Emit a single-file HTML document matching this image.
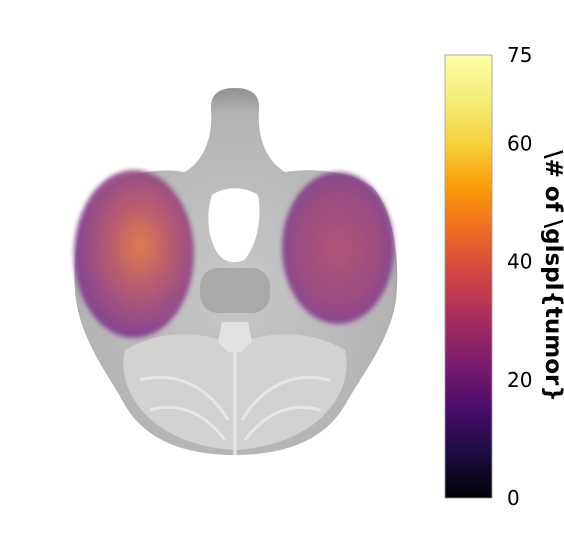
<!DOCTYPE html>
<html><head><meta charset="utf-8"><style>
body{margin:0;background:#fff;width:564px;height:554px;overflow:hidden}
svg{display:block;font-family:"DejaVu Sans","Liberation Sans",sans-serif}
</style></head><body>
<svg width="564" height="554">
<defs>
<linearGradient id="inferno" x1="0" y1="1" x2="0" y2="0">
<stop offset="0" stop-color="#000004"/><stop offset="0.1" stop-color="#1b0c41"/>
<stop offset="0.2" stop-color="#4a0c6b"/><stop offset="0.3" stop-color="#781c6d"/>
<stop offset="0.4" stop-color="#a52c60"/><stop offset="0.5" stop-color="#cf4446"/>
<stop offset="0.6" stop-color="#ed6925"/><stop offset="0.7" stop-color="#fb9b06"/>
<stop offset="0.8" stop-color="#f7d13d"/><stop offset="0.9" stop-color="#f3ee7a"/>
<stop offset="1" stop-color="#fcffa4"/></linearGradient>
<radialGradient id="lobeL" cx="0.55" cy="0.45" r="0.6">
<stop offset="0" stop-color="#e07a4a"/><stop offset="0.45" stop-color="#b5556f"/><stop offset="1" stop-color="#7a3c98"/></radialGradient>
<radialGradient id="lobeR" cx="0.5" cy="0.5" r="0.6">
<stop offset="0" stop-color="#b24f72"/><stop offset="0.6" stop-color="#9a4880"/><stop offset="1" stop-color="#7a3e98"/></radialGradient>
<radialGradient id="brainG" cx="0.5" cy="0.55" r="0.6">
<stop offset="0" stop-color="#c8c8c8"/><stop offset="0.8" stop-color="#b4b4b4"/><stop offset="1" stop-color="#787878"/></radialGradient>
<filter id="blur"><feGaussianBlur stdDeviation="2.5"/></filter>
</defs>
<g>
<path fill="url(#brainG)" d="M235,88 C218,88 210,95 211,110 C213,135 205,160 185,172 C160,168 120,170 95,200 C75,225 72,270 76,300 C82,340 105,370 125,405 C145,440 185,455 235,455 C285,455 325,440 345,405 C365,370 390,340 396,300 C400,265 395,215 375,190 C355,170 310,168 285,172 C265,160 257,135 259,110 C260,95 252,88 235,88Z"/>
<path fill="#d2d2d2" d="M125,350 C160,330 200,330 235,345 C270,330 310,330 345,350 C355,390 320,445 235,450 C150,445 115,390 125,350Z"/>
<g stroke="#e6e6e6" stroke-width="3" fill="none">
<path d="M140,380 C180,370 210,390 228,420"/><path d="M150,410 C185,400 210,420 225,440"/>
<path d="M330,380 C290,370 260,390 242,420"/><path d="M320,410 C285,400 260,420 245,440"/>
<path d="M235,345 L235,455"/>
</g>
<rect x="200" y="268" width="70" height="45" rx="18" fill="#a9a9a9"/>
<path fill="#e2e2e2" d="M222,322 L248,322 L252,342 L240,352 L228,352 L218,342Z"/>
<path fill="#fff" d="M212,195 C225,186 245,186 258,195 C262,215 258,245 244,260 C238,263 228,263 222,258 C208,245 205,215 212,195Z"/>
<ellipse cx="134" cy="254" rx="60" ry="84" fill="url(#lobeL)" filter="url(#blur)" opacity="0.95"/>
<ellipse cx="338" cy="248" rx="56" ry="76" fill="url(#lobeR)" filter="url(#blur)" opacity="0.95"/>
</g>
<g id="cbar">
<rect x="445" y="55" width="47" height="443" fill="url(#inferno)" stroke="#999" stroke-width="0.8"/>
</g>
<text transform="translate(546,276) rotate(90)" text-anchor="middle" font-size="23" font-weight="bold" fill="#000">\# of \glspl{tumor}</text>
</svg>
<script>
const tickValues=[0,20,40,60,75];
const tickLabels=["0","20","40","60","75"];
const vmin=0,vmax=75;
function yScale(v){return 498-(v-vmin)/(vmax-vmin)*443;}
const g=document.getElementById('cbar');
tickValues.forEach((v,i)=>{
const y=yScale(v);
const t=document.createElementNS('http://www.w3.org/2000/svg','text');
t.setAttribute('x',507);t.setAttribute('y',y+7);t.setAttribute('font-size','20');
t.textContent=tickLabels[i];


g.appendChild(t);
});
</script>
</body></html>
